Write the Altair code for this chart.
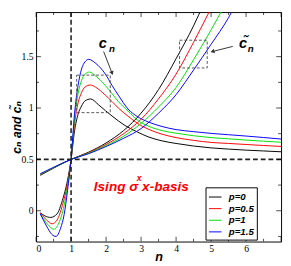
import altair as alt
import pandas as pd

# ---------- data ----------
p_labels = ["p=0", "p=0.5", "p=1", "p=1.5"]
p_colors = ["#000000", "#ff0000", "#00e000", "#0000ff"]

# c_n curves
cn_x = {
    "p=0":   [0.12, 0.25, 0.42, 0.6, 0.75, 0.9, 1.0, 1.1, 1.2, 1.3, 1.4, 1.56, 1.79, 1.98, 2.17, 2.54, 2.9, 3.2, 3.6, 4.0, 4.5, 5.0, 5.5, 6.0, 6.5, 7.0],
    "p=0.5": [0.12, 0.3, 0.46, 0.6, 0.75, 0.9, 1.0, 1.1, 1.2, 1.3, 1.4, 1.55, 1.7, 1.98, 2.17, 2.35, 2.63, 2.9, 3.2, 3.6, 4.0, 4.5, 5.0, 5.5, 6.0, 6.5, 7.0],
    "p=1":   [0.12, 0.3, 0.51, 0.65, 0.8, 0.9, 1.0, 1.1, 1.2, 1.3, 1.4, 1.53, 1.7, 1.98, 2.17, 2.35, 2.63, 2.9, 3.2, 3.6, 4.0, 4.5, 5.0, 5.5, 6.0, 6.5, 7.0],
    "p=1.5": [0.12, 0.3, 0.45, 0.57, 0.7, 0.8, 0.9, 1.0, 1.1, 1.2, 1.3, 1.4, 1.5, 1.7, 1.98, 2.17, 2.35, 2.63, 2.9, 3.2, 3.6, 4.0, 4.5, 5.0, 5.5, 6.0, 6.5, 7.0],
}
cn_y = {
    "p=0":   [-0.02, -0.05, -0.065, -0.03, 0.1, 0.3, 0.5, 0.78, 0.94, 1.02, 1.07, 1.088, 1.03, 0.975, 0.922, 0.83, 0.766, 0.72, 0.68, 0.655, 0.63, 0.612, 0.6, 0.59, 0.582, 0.574],
    "p=0.5": [-0.025, -0.09, -0.127, -0.09, 0.05, 0.27, 0.5, 0.85, 1.05, 1.15, 1.205, 1.224, 1.203, 1.125, 1.063, 1.0, 0.92, 0.85, 0.795, 0.745, 0.712, 0.685, 0.665, 0.655, 0.645, 0.635, 0.626],
    "p=1":   [-0.03, -0.12, -0.18, -0.12, 0.05, 0.24, 0.5, 0.9, 1.14, 1.27, 1.33, 1.35, 1.312, 1.219, 1.14, 1.063, 0.97, 0.88, 0.825, 0.78, 0.755, 0.73, 0.712, 0.70, 0.688, 0.677, 0.667],
    "p=1.5": [-0.03, -0.15, -0.23, -0.25, -0.17, -0.04, 0.2, 0.5, 0.95, 1.22, 1.38, 1.45, 1.474, 1.436, 1.33, 1.22, 1.125, 0.99, 0.915, 0.865, 0.82, 0.79, 0.77, 0.753, 0.74, 0.727, 0.713, 0.698],
}

# c~_n curves
ct_x = {
    "p=0":   [0.12, 0.5, 1.0, 1.5, 2.0, 2.5, 3.0, 3.5, 4.0, 4.5, 4.77],
    "p=0.5": [0.12, 0.5, 1.0, 1.5, 2.0, 2.5, 3.0, 3.5, 4.0, 4.5, 5.04],
    "p=1":   [0.12, 0.5, 1.0, 1.5, 2.0, 2.5, 3.0, 3.5, 4.0, 4.5, 5.0, 5.39],
    "p=1.5": [0.12, 0.5, 1.0, 1.5, 2.0, 2.5, 3.0, 3.5, 4.0, 4.5, 5.0, 5.5, 5.69],
}
ct_y = {
    "p=0":   [0.345, 0.415, 0.5, 0.57, 0.66, 0.78, 0.95, 1.18, 1.48, 1.8, 2.0],
    "p=0.5": [0.35, 0.417, 0.5, 0.565, 0.645, 0.75, 0.89, 1.09, 1.33, 1.64, 2.0],
    "p=1":   [0.355, 0.42, 0.5, 0.56, 0.635, 0.725, 0.85, 1.01, 1.2, 1.47, 1.76, 2.0],
    "p=1.5": [0.36, 0.423, 0.5, 0.555, 0.625, 0.705, 0.80, 0.95, 1.13, 1.37, 1.62, 1.88, 2.0],
}

x_major = [0, 1, 2, 3, 4, 5, 6, 7]
x_minor = [0.5, 1.5, 2.5, 3.5, 4.5, 5.5, 6.5]
y_major = [0, 0.5, 1.0, 1.5]
y_minor = [-0.25, 0.25, 0.75, 1.25, 1.75]
x_labels = [0, 1, 2, 3, 4, 5, 6]

box_cn = {"n": [1.16], "n2": [2.12], "v": [0.955], "v2": [1.32]}
box_ct = {"n": [4.1], "n2": [4.89], "v": [1.39], "v2": [1.66]}

# ---------- build tables ----------
rows = []
for p in p_labels:
    for xv, yv in zip(cn_x[p], cn_y[p]):
        rows.append({"n": xv, "v": yv, "p": p, "kind": "cn"})
    for xv, yv in zip(ct_x[p], ct_y[p]):
        rows.append({"n": xv, "v": yv, "p": p, "kind": "ct"})
df = pd.DataFrame(rows)

W, H = 253, 237
xs = alt.Scale(domain=[0, 7], nice=False, zero=False)
ys = alt.Scale(domain=[-0.3, 1.934], nice=False, zero=False)

SANS = "Liberation Sans, DejaVu Sans"
SERIF = "Liberation Serif"

XQ = lambda: alt.X("n:Q", scale=xs)
YQ = lambda: alt.Y("v:Q", scale=ys)

lines = alt.Chart(df).mark_line(strokeWidth=1, interpolate="monotone", clip=True).encode(
    x=alt.X("n:Q", scale=xs, axis=alt.Axis(
        values=x_labels, ticks=False, tickSize=0, domain=False, grid=False,
        labelFont=SERIF, labelFontSize=10, labelPadding=2, labelColor="black",
        title="n", titleFont=SANS, titleFontStyle="italic", titleFontWeight="bold",
        titleFontSize=13, titlePadding=-2, titleColor="black")),
    y=alt.Y("v:Q", scale=ys, axis=alt.Axis(
        values=y_major, format="~g", ticks=False, tickSize=0, domain=False, grid=False,
        labelFont=SERIF, labelFontSize=10, labelPadding=3, labelColor="black",
        title="cₙ and c̃ₙ", titleFont=SANS, titleFontStyle="italic",
        titleFontWeight="bold", titleFontSize=12.5, titlePadding=-2, titleColor="black")),
    color=alt.Color("p:N", scale=alt.Scale(domain=p_labels, range=p_colors),
                    legend=alt.Legend(
                        title=None, orient="none", legendX=175, legendY=181,
                        symbolType="stroke", symbolSize=169, symbolStrokeWidth=1,
                        labelFont=SANS, labelFontStyle="italic", labelFontWeight="bold",
                        labelFontSize=10, labelOffset=7, labelColor="black",
                        strokeColor="black", fillColor="white", padding=3,
                        rowPadding=0, offset=0)),
    detail="kind:N",
)

def xtick(vals, size, ypix):
    return alt.Chart(pd.DataFrame({"n": vals})).mark_tick(
        size=size, thickness=1, color="black").encode(x=XQ(), y=alt.value(ypix))

def ytick(vals, size, xpix):
    return alt.Chart(pd.DataFrame({"v": vals})).mark_tick(
        size=size, thickness=1, color="black").encode(y=YQ(), x=alt.value(xpix))

ticks = [
    xtick(x_major, 5, H - 2.5), xtick(x_minor, 3, H - 1.5),
    xtick(x_major, 5, 2.5), xtick(x_minor, 3, 1.5),
    ytick(y_major, 5, 2.5), ytick(y_minor, 3, 1.5),
    ytick(y_major, 5, W - 2.5), ytick(y_minor, 3, W - 1.5),
]

hline = alt.Chart(pd.DataFrame({"v": [0.5]})).mark_rule(
    strokeDash=[5, 3], strokeWidth=1.6, color="#222222").encode(y=YQ())
vline = alt.Chart(pd.DataFrame({"n": [1.0]})).mark_rule(
    strokeDash=[5, 3], strokeWidth=1.6, color="#222222").encode(x=XQ())

def box(d):
    return alt.Chart(pd.DataFrame(d)).mark_rect(
        filled=False, stroke="#555555", strokeWidth=1, strokeDash=[3, 2]).encode(
        x=XQ(), x2="n2:Q", y=YQ(), y2="v2:Q")

def arrow(x0, y0, x1, y1, ang):
    shaft = alt.Chart(pd.DataFrame({"n": [x0, x1], "v": [y0, y1]})).mark_line(
        color="#333333", strokeWidth=1).encode(x=XQ(), y=YQ())
    head = alt.Chart(pd.DataFrame({"n": [x1], "v": [y1]})).mark_point(
        shape="triangle-up", filled=True, size=22, angle=ang, color="#333333",
        opacity=1).encode(x=XQ(), y=YQ())
    return [shaft, head]

def label(x, y, txt, size, color="black"):
    return alt.Chart(pd.DataFrame({"n": [x], "v": [y], "t": [txt]})).mark_text(
        font=SANS, fontStyle="italic", fontWeight="bold", fontSize=size,
        color=color, align="left", baseline="alphabetic").encode(
        x=XQ(), y=YQ(), text="t:N")

annots = [
    label(1.79, 1.58, "c", 15), label(2.08, 1.545, "n", 10),
    *arrow(1.93, 1.55, 2.17, 1.34, 160),
    label(5.8, 1.58, "c̃", 15), label(6.05, 1.55, "n", 10),
    *arrow(5.62, 1.60, 5.04, 1.55, 254),
    label(1.65, 0.195, "Ising σ", 14, "#ff0000"),
    label(2.88, 0.285, "x", 9, "#ff0000"),
    label(3.03, 0.195, "x-basis", 14, "#ff0000"),
]

chart = alt.layer(
    lines, hline, vline, box(box_cn), box(box_ct), *ticks, *annots
).properties(
    width=W, height=H,
    autosize=alt.AutoSizeParams(type="none"),
    padding={"left": 29, "top": 0, "right": 2, "bottom": 20},
).configure_view(stroke="black", strokeWidth=1)

chart.save("out.html", embed_options={"renderer": "svg", "actions": False})
